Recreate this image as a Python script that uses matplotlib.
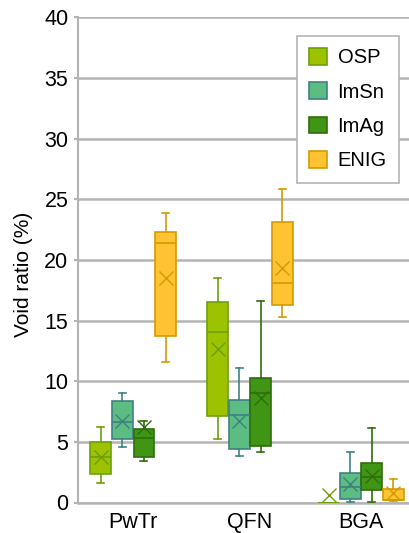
import matplotlib
matplotlib.use("Agg")
import matplotlib.pyplot as plt
from matplotlib.patches import Patch

plt.rcParams['font.family'] = ['Liberation Sans', 'DejaVu Sans']

categories = ["PwTr", "QFN", "BGA"]
series = ["OSP", "ImSn", "ImAg", "ENIG"]

# rows per category: [whislo, q1, median, q3, whishi, mean]
osp_stats = [[1.63, 2.32, 3.73, 5.01, 6.25, 3.75],
             [5.24, 7.13, 14.06, 16.50, 18.53, 12.65],
             [0.0, 0.0, 0.0, 0.0, 0.0, 0.6]]
imsn_stats = [[4.58, 5.23, 6.61, 8.39, 9.03, 6.72],
              [3.83, 4.39, 7.19, 8.43, 11.09, 6.74],
              [0.04, 0.26, 1.30, 2.41, 4.19, 1.50]]
imag_stats = [[3.45, 3.73, 5.29, 6.06, 6.74, 6.2],
              [4.14, 4.66, 9.00, 10.24, 16.64, 8.59],
              [0.05, 1.03, 2.08, 3.23, 6.12, 2.2]]
enig_stats = [[11.58, 13.73, 21.39, 22.30, 23.89, 18.53],
              [15.32, 16.28, 18.07, 23.10, 25.87, 19.36],
              [0.1, 0.18, 0.18, 1.11, 1.94, 0.75]]

all_stats = [osp_stats, imsn_stats, imag_stats, enig_stats]
face_colors = ["#9DC300", "#5CBD82", "#419514", "#FFC233"]
edge_colors = ["#6E9F0A", "#3F8183", "#2E6E0C", "#D49B00"]

# layout
cat_pos = [0.0, 1.0, 1.95]
offsets = [-0.277, -0.092, 0.092, 0.277]
box_w = 0.178

fig = plt.figure(figsize=(4.09, 5.33), dpi=100)
ax = fig.add_axes([78 / 409, 1 - 502.5 / 533, 1 - 78 / 409, (502.5 - 17.4) / 533])

grid_color = "#B4B4B4"
for si, stats in enumerate(all_stats):
    bxp_stats = []
    positions = []
    for ci, row in enumerate(stats):
        lo, q1, med, q3, hi, mean = row
        bxp_stats.append(dict(whislo=lo, q1=q1, med=med, q3=q3, whishi=hi,
                              mean=mean, fliers=[]))
        positions.append(cat_pos[ci] + offsets[si])
    ec = edge_colors[si]
    ax.bxp(bxp_stats, positions=positions, widths=box_w, patch_artist=True,
           showmeans=True, showfliers=False, capwidths=0.06,
           boxprops=dict(facecolor=face_colors[si], edgecolor=ec, linewidth=1.2),
           medianprops=dict(color=ec, linewidth=1.2),
           whiskerprops=dict(color=ec, linewidth=1.2),
           capprops=dict(color=ec, linewidth=1.2),
           meanprops=dict(marker='x', markeredgecolor=ec, markersize=9.5,
                          markeredgewidth=1.0, linestyle='none'),
           zorder=3)

ax.set_ylim(0, 40)
ax.set_xlim(-0.472, 2.36)
ax.set_yticks(range(0, 41, 5))
ax.set_xticks(cat_pos)
ax.set_xticklabels(categories)
ax.yaxis.grid(True, color=grid_color, linewidth=1.8, zorder=0)
ax.set_axisbelow(True)
for s in ["top", "right"]:
    ax.spines[s].set_visible(False)
ax.spines["left"].set_color(grid_color)
ax.spines["left"].set_linewidth(1.5)
ax.spines["bottom"].set_color(grid_color)
ax.spines["bottom"].set_linewidth(1.8)
ax.tick_params(axis='y', length=3, color=grid_color, width=1.5, labelsize=15.5, pad=4)
ax.tick_params(axis='x', length=0, labelsize=15.5, pad=7)
ax.set_ylabel("Void ratio (%)", fontsize=15)
ax.yaxis.set_label_coords(-0.135, 0.47)

handles = [Patch(facecolor=fc, edgecolor=ec, linewidth=1.2, label=s)
           for s, fc, ec in zip(series, face_colors, edge_colors)]
leg = ax.legend(handles=handles, loc='upper right', bbox_to_anchor=(0.969, 0.962),
                borderaxespad=0, fontsize=14.5, fancybox=False, framealpha=1,
                edgecolor=grid_color, handlelength=0.9, handleheight=0.9,
                labelspacing=0.75, handletextpad=0.5, borderpad=0.6)
leg.get_frame().set_linewidth(1.2)

fig.savefig("out.png", dpi=100)
